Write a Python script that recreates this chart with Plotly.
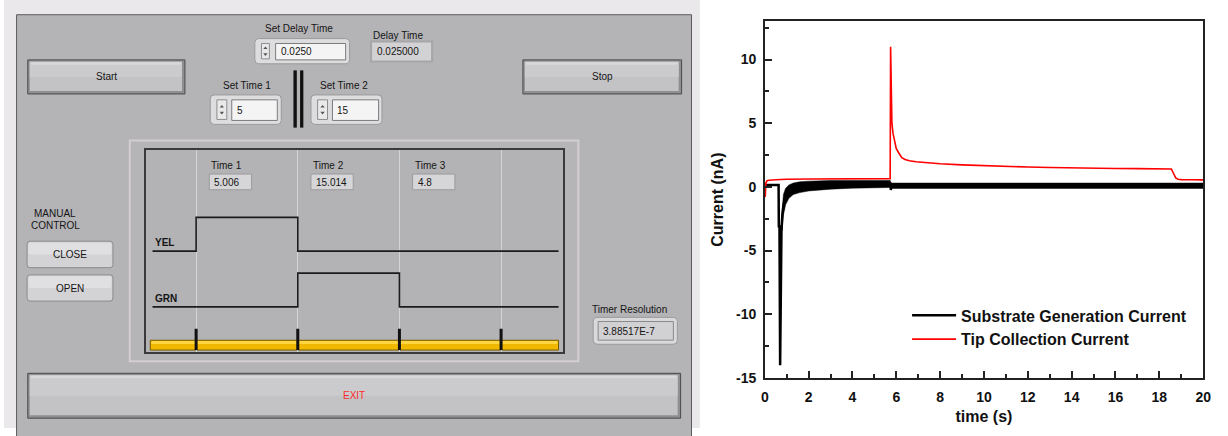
import plotly.graph_objects as go

# ---------------- data: right-hand chart ----------------
tip_t = [0.02, 0.05, 0.1, 0.2, 0.5, 1, 2, 3, 4, 5, 5.72, 5.74, 5.77, 5.8, 5.85, 5.92, 6.0, 6.1,
         6.25, 6.4, 6.6, 6.9, 7.3, 8, 9, 10, 11, 12, 13, 14, 15, 16, 17, 18, 18.55, 18.65,
         18.75, 18.85, 19, 19.5, 20]
tip_v = [-0.8, 0.3, 0.48, 0.52, 0.56, 0.6, 0.62, 0.63, 0.63, 0.64, 0.65, 11.0, 7.5, 5.0, 4.2,
         3.5, 3.0, 2.7, 2.3, 2.15, 2.05, 1.97, 1.9, 1.82, 1.73, 1.66, 1.61, 1.56, 1.52, 1.48,
         1.46, 1.44, 1.43, 1.42, 1.40, 1.05, 0.7, 0.6, 0.57, 0.56, 0.55]

sub_t = [0, 0.63, 0.64, 0.67, 0.70, 0.73, 0.76, 0.80, 0.86, 0.95, 1.1, 1.4, 2.0, 3.0, 4.0, 5.0,
         5.74, 5.75, 5.77, 6.5, 8, 10, 12, 14, 16, 18, 20]
sub_v = [0.15, 0.15, -3.1, -3.1, -14.0, -7.0, -3.5, -2.2, -1.4, -0.8, -0.3, 0.0, 0.1, 0.15,
         0.2, 0.2, 0.25, -0.25, 0.1, 0.1, 0.1, 0.1, 0.1, 0.1, 0.1, 0.1, 0.1]

# noisy envelope of the substrate current (upper / lower edge)
band_t = [0.78, 0.85, 0.95, 1.1, 1.3, 1.6, 2.0, 2.5, 3.0, 4.0, 5.0, 5.72, 5.76, 8, 12, 16, 20]
band_hi = [-2.0, -0.6, -0.1, 0.15, 0.3, 0.4, 0.45, 0.5, 0.5, 0.5, 0.5, 0.5, 0.3, 0.3, 0.3, 0.3, 0.3]
band_lo = [-3.5, -2.2, -1.4, -0.9, -0.6, -0.45, -0.32, -0.24, -0.18, -0.1, -0.06, -0.05, -0.12,
           -0.12, -0.12, -0.12, -0.12]

x_ticks = [0, 2, 4, 6, 8, 10, 12, 14, 16, 18, 20]
y_ticks = [-15, -10, -5, 0, 5, 10]
y_tick_text = ["-15", "-10", "-5", "0", "5", "10"]

# ---------------- data: timing diagram in the GUI ----------------
grid_times = [1, 2, 3, 4]
yel_x = [0.571, 1, 2, 4.565]
yel_y = [3.0, 4.0, 3.0, 3.0]
grn_x = [0.571, 2, 3, 4.565]
grn_y = [1.35, 2.35, 1.35, 1.35]

W, H = 1228, 436
FONT = "Liberation Sans"
shapes = []
annots = []


def X(x):
    return x / W


def Y(y):
    return 1 - y / H


def rect(x0, y0, x1, y1, fill, line=None, lw=1):
    shapes.append(dict(type="rect", xref="paper", yref="paper", x0=X(x0), x1=X(x1),
                       y0=Y(y1), y1=Y(y0), fillcolor=fill, layer="below",
                       line=dict(color=line if line else "rgba(0,0,0,0)", width=lw if line else 0)))


def rrect(x0, y0, x1, y1, r, fill, line=None, lw=1):
    p = (f"M{X(x0 + r)},{Y(y0)} L{X(x1 - r)},{Y(y0)} Q{X(x1)},{Y(y0)} {X(x1)},{Y(y0 + r)} "
         f"L{X(x1)},{Y(y1 - r)} Q{X(x1)},{Y(y1)} {X(x1 - r)},{Y(y1)} L{X(x0 + r)},{Y(y1)} "
         f"Q{X(x0)},{Y(y1)} {X(x0)},{Y(y1 - r)} L{X(x0)},{Y(y0 + r)} Q{X(x0)},{Y(y0)} {X(x0 + r)},{Y(y0)} Z")
    shapes.append(dict(type="path", xref="paper", yref="paper", path=p, fillcolor=fill, layer="below",
                       line=dict(color=line if line else "rgba(0,0,0,0)", width=lw if line else 0)))


def tri(cx, cy, s, up, color="#555"):
    if up:
        p = f"M{X(cx - s)},{Y(cy + s * 0.6)} L{X(cx + s)},{Y(cy + s * 0.6)} L{X(cx)},{Y(cy - s * 0.6)} Z"
    else:
        p = f"M{X(cx - s)},{Y(cy - s * 0.6)} L{X(cx + s)},{Y(cy - s * 0.6)} L{X(cx)},{Y(cy + s * 0.6)} Z"
    shapes.append(dict(type="path", xref="paper", yref="paper", path=p, fillcolor=color,
                       layer="below", line=dict(width=0)))


def text(x, y, s, size=10, color="#151515", anchor="center", bold=False):
    annots.append(dict(x=X(x), y=Y(y), xref="paper", yref="paper", text=s, showarrow=False,
                       xanchor=anchor, yanchor="middle",
                       font=dict(family=FONT, size=size, color=color,
                                 weight="bold" if bold else "normal")))


def button(x0, y0, x1, y1, label, color="#151515"):
    rect(x0, y0, x1, y1, "#8f8e90", "#4a4a4a", 1)
    rect(x0 + 2, y0 + 2, x1 - 3, y1 - 3, "#c3c2c4")
    rect(x0 + 2, y0 + 2, x1 - 3, (y0 + y1) / 2, "#cbcacc")
    rect(x0 + 3, y0 + 2.5, x1 - 4, y0 + 5, "#d8d7d9")
    text((x0 + x1) / 2, (y0 + y1) / 2, label, color=color)


def soft_button(x0, y0, x1, y1, label):
    rrect(x0, y0, x1, y1, 3, "#d3d2d4", "#8b8a8c", 1)
    rrect(x0 + 1.5, y0 + 1.5, x1 - 1.5, (y0 + y1) / 2, 2, "#e0dfe1")
    text((x0 + x1) / 2, (y0 + y1) / 2 + 0.5, label)


def numctrl(x0, y0, x1, y1, sx0, sx1, fx0, fx1, value):
    rrect(x0, y0, x1, y1, 4, "#dddcde", "#9a999b", 1)
    rect(sx0, y0 + 5, sx1, y1 - 5, "#e9e9e9", "#8e8e8e", 1)
    cy = (y0 + y1) / 2
    tri((sx0 + sx1) / 2, cy - 3.5, 2.2, True)
    tri((sx0 + sx1) / 2, cy + 3.5, 2.2, False)
    rect(fx0, y0 + 5, fx1, y1 - 4, "#f4f4f4", "#7c7c7c", 1)
    text(fx0 + 3, cy + 0.5, value, anchor="left")


# ---------------- GUI panel ----------------
rect(0, 0, 702.7, 436, "#eae8ea")
rect(12.7, 15, 694.3, 445, "#b4b3b5", "#5c5c5c", 1)

button(24, 61, 182.7, 95.7, "Start")
button(524, 61, 684.3, 95.7, "Stop")
button(24, 380.3, 683.3, 426, "EXIT", color="#ff2a2a")

text(297.7, 29.5, "Set Delay Time")
numctrl(253.3, 39.3, 349, 65, 260, 268, 274.3, 345, "0.0250")
text(398, 36, "Delay Time")
rect(370.7, 42.3, 432.3, 62.7, "#d2d1d3", "#a6a5a7", 2)
text(374.5, 52.5, "0.025000", anchor="left")

text(245, 87.5, "Set Time 1")
numctrl(208.3, 96.7, 280, 126.7, 215, 225, 230, 276, "5")
text(343.3, 87.5, "Set Time 2")
numctrl(310, 96.7, 381.7, 126.7, 316.7, 326.7, 331.7, 378.3, "15")
rect(292.3, 71.7, 295.7, 130, "#111111")
rect(299, 71.7, 302.3, 130, "#111111")

text(51.7, 217, "MANUAL")
text(51.7, 229.5, "CONTROL")
soft_button(23.3, 245.7, 110, 272.7, "CLOSE")
soft_button(23.3, 280, 110, 306.7, "OPEN")

text(631.7, 315, "Timer Resolution")
rrect(595, 323.3, 680, 350.7, 4, "#d9d8da", "#9a999b", 1)
rect(600, 327.5, 676, 346.5, "#d1d0d2", "#8a898b", 1)
text(603, 337.5, "3.88517E-7", anchor="left")

# timing diagram frame
rect(127, 143, 580, 368, "#b5b4b6", "#d2ced2", 2)
rect(143.3, 152.7, 564.3, 359, "#b3b2b4")
for k, lab in enumerate(["Time 1", "Time 2", "Time 3"]):
    x0 = 207.3 + 102.67 * k
    text(x0, 168.5, lab, anchor="left")
for k, val in enumerate(["5.006", "15.014", "4.8"]):
    x0 = 207.3 + 102.67 * k
    rect(x0, 177.3, x0 + 42.7, 193.3, "#d6d5d7", "#9b9a9c", 1)
    text(x0 + 3, 185.5, val, anchor="left")
text(150, 247.5, "YEL", anchor="left", bold=True)
text(150, 304, "GRN", anchor="left", bold=True)

# yellow time bar (axis-referenced)
shapes.append(dict(type="rect", xref="x2", yref="y2", x0=0.549, x1=4.565, y0=0.07, y1=0.36,
                   fillcolor="#f1b800", line=dict(color="#7a5c00", width=1), layer="below"))
shapes.append(dict(type="rect", xref="x2", yref="y2", x0=0.56, x1=4.555, y0=0.25, y1=0.34,
                   fillcolor="#ffd640", line=dict(width=0), layer="below"))

fig = go.Figure()

# timing diagram traces
fig.add_trace(go.Scatter(x=yel_x, y=yel_y, mode="lines", line=dict(color="#1c1c1c", width=1.6, shape="hv"),
                         xaxis="x2", yaxis="y2", showlegend=False, hoverinfo="skip"))
fig.add_trace(go.Scatter(x=grn_x, y=grn_y, mode="lines", line=dict(color="#1c1c1c", width=1.6, shape="hv"),
                         xaxis="x2", yaxis="y2", showlegend=False, hoverinfo="skip"))
mk_x, mk_y = [], []
for t in grid_times:
    mk_x += [t, t, None]
    mk_y += [0.07, 0.70, None]
fig.add_trace(go.Scatter(x=mk_x, y=mk_y, mode="lines", line=dict(color="#111", width=3),
                         xaxis="x2", yaxis="y2", showlegend=False, hoverinfo="skip"))

# main chart traces
fig.add_trace(go.Scatter(x=band_t, y=band_hi, mode="lines", line=dict(color="black", width=0.5),
                         showlegend=False, hoverinfo="skip"))
fig.add_trace(go.Scatter(x=band_t, y=band_lo, mode="lines", line=dict(color="black", width=0.5),
                         fill="tonexty", fillcolor="black", showlegend=False, hoverinfo="skip"))
fig.add_trace(go.Scatter(x=sub_t, y=sub_v, mode="lines", name="Substrate Generation Current",
                         line=dict(color="black", width=2.5)))
fig.add_trace(go.Scatter(x=tip_t, y=tip_v, mode="lines", name="Tip Collection Current",
                         line=dict(color="#ff0000", width=1.6)))

axis_font = dict(family=FONT, size=14, color="#111", weight="bold")
title_font = dict(family=FONT, size=16, color="#111", weight="bold")

fig.update_layout(
    width=W, height=H, margin=dict(l=0, r=0, t=0, b=0),
    paper_bgcolor="white", plot_bgcolor="rgba(0,0,0,0)",
    shapes=shapes, annotations=annots,
    xaxis=dict(domain=[768.3 / W, 1211 / W], range=[0, 20], tickvals=x_ticks, ticks="inside",
               ticklen=7, tickwidth=1.5, tickcolor="#222", showline=True, linecolor="#222",
               linewidth=1.5, mirror=True, showgrid=False, zeroline=False, tickfont=axis_font,
               ticklabelstandoff=6,
               minor=dict(dtick=1, tick0=0, ticks="inside", ticklen=4, tickwidth=1.5, tickcolor="#222",
                          showgrid=False),
               title=dict(text="time (s)", font=title_font, standoff=6), anchor="y"),
    yaxis=dict(domain=[1 - 385 / H, 1 - 21.7 / H], range=[-15, 13], tickvals=y_ticks,
               ticktext=y_tick_text, ticks="inside",
               ticklen=7, tickwidth=1.5, tickcolor="#222", showline=True, linecolor="#222",
               linewidth=1.5, mirror=True, showgrid=False, zeroline=False, tickfont=axis_font,
               ticklabelstandoff=4,
               minor=dict(dtick=2.5, tick0=0, ticks="inside", ticklen=4, tickwidth=1.5, tickcolor="#222",
                          showgrid=False),
               title=dict(text="Current (nA)", font=title_font, standoff=8), anchor="x"),
    xaxis2=dict(domain=[143.3 / W, 564.3 / W], range=[0.506, 4.607], tickvals=grid_times, ticks="",
                showticklabels=False, showgrid=True, gridcolor="#d4d4d6", gridwidth=1, zeroline=False,
                showline=True, linecolor="#3a3a3a", linewidth=2, mirror=True, anchor="y2"),
    yaxis2=dict(domain=[1 - 359 / H, 1 - 152.7 / H], range=[0, 6], showticklabels=False, showgrid=False,
                zeroline=False, ticks="", showline=True, linecolor="#3a3a3a", linewidth=2, mirror=True,
                anchor="x2"),
    legend=dict(x=912 / W, y=1 - 304 / H, xanchor="left", yanchor="top", bgcolor="rgba(0,0,0,0)",
                traceorder="normal", itemwidth=44,
                font=dict(family=FONT, size=16, color="#111", weight="bold"), tracegroupgap=0),
    showlegend=True,
)

fig.write_html("out.html")
